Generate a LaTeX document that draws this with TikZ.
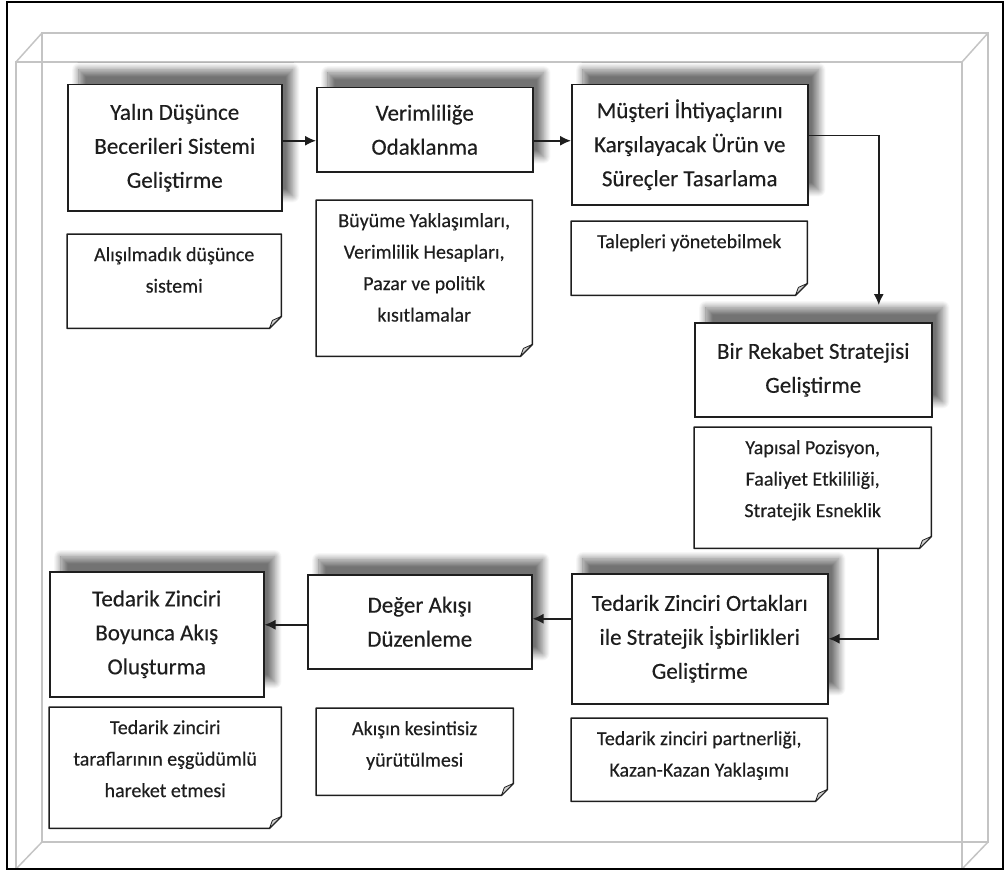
\documentclass[tikz,border=0pt]{standalone}
\usepackage{fontspec}
\setmainfont{Carlito}[FakeBold=0.35]
\usetikzlibrary{arrows.meta,shadows.blur,calc}
\definecolor{frameline}{HTML}{C4C4C4}
\definecolor{ink}{HTML}{1E1E1E}
\tikzset{
  stepbox/.style={draw=ink, line width=1.5pt, fill=white, align=center, inner sep=0pt,
    anchor=north west, font=\fontsize{23}{34}\selectfont, text=ink,
    blur shadow={shadow xshift=11pt, shadow yshift=15pt, shadow blur radius=7pt,
      shadow blur steps=16, shadow opacity=55}},
  notebox/.style={inner sep=0pt, anchor=north west},
  notetext/.style={align=center, inner sep=0pt, anchor=north,
    font=\fontsize{20}{31.5}\selectfont, text=ink},
  arr/.style={draw=ink, line width=1.5pt, -{Latex[length=11pt,width=10pt]}},
  frame3d/.style={draw=frameline, line width=1.5pt},
  noteline/.style={draw=ink, line width=1.5pt, line join=round},
  notefold/.style={draw=ink, line width=0.8pt, fill=gray!35, line join=round},
}
% note outline with a folded bottom-right corner
\newcommand\dogear[1]{%
  \draw[noteline] (#1.north west) -- (#1.north east) -- ([yshift=12pt]#1.south east)
    -- ([xshift=-12pt]#1.south east) -- (#1.south west) -- cycle;
  \draw[notefold] ([yshift=12pt]#1.south east) -- ([xshift=-9pt,yshift=8pt]#1.south east)
    -- ([xshift=-12pt]#1.south east) -- cycle;
}
\begin{document}
\begin{tikzpicture}[x=1pt,y=-1pt]
\useasboundingbox (0,0) rectangle (1006,872);

% wire-frame box behind the chart
\draw[frame3d] (42,33) rectangle (988,842);
\draw[frame3d] (16,62) rectangle (962,869);
\draw[frame3d] (42,33) -- (16,62) (988,33) -- (962,62) (42,842) -- (16,869) (988,842) -- (962,869);
\draw[black, line width=2pt] (7,2) rectangle (1003,869);

% main steps
\node[stepbox, minimum width=214pt, minimum height=126pt] (b1) at (67,84)
  {Yalın Düşünce\\Becerileri Sistemi\\Geliştirme};
\node[stepbox, minimum width=216pt, minimum height=84pt] (b2) at (316,87)
  {Verimliliğe\\Odaklanma};
\node[stepbox, minimum width=236pt, minimum height=120pt] (b3) at (571,84)
  {Müşteri İhtiyaçlarını\\Karşılayacak Ürün ve\\Süreçler Tasarlama};
\node[stepbox, minimum width=237pt, minimum height=94pt] (b4) at (694,322)
  {Bir Rekabet Stratejisi\\Geliştirme};
\node[stepbox, minimum width=256pt, minimum height=130pt] (b5) at (571,573)
  {Tedarik Zinciri Ortakları\\ile Stratejik İşbirlikleri\\Geliştirme};
\node[stepbox, minimum width=224pt, minimum height=94pt] (b6) at (307,574)
  {Değer Akışı\\Düzenleme};
\node[stepbox, minimum width=214pt, minimum height=125pt] (b7) at (49,571)
  {Tedarik Zinciri\\Boyunca Akış\\Oluşturma};

% notes under the steps
\node[notebox, minimum width=214pt, minimum height=94pt] (n1) at (67,234) {};
\node[notebox, minimum width=216pt, minimum height=156pt] (n2) at (316,200) {};
\node[notebox, minimum width=236pt, minimum height=74pt] (n3) at (571,221) {};
\node[notebox, minimum width=237pt, minimum height=121pt] (n4) at (694,427) {};
\node[notebox, minimum width=256pt, minimum height=83pt] (n5) at (571,718) {};
\node[notebox, minimum width=197pt, minimum height=87pt] (n6) at (316,708) {};
\node[notebox, minimum width=232pt, minimum height=121pt] (n7) at (49,707) {};
\dogear{n1}\dogear{n2}\dogear{n3}\dogear{n4}\dogear{n5}\dogear{n6}\dogear{n7}

\node[notetext] (t1) at ([yshift=-13pt]n1.north) {Alışılmadık düşünce\\sistemi};
\node[notetext] (t2) at ([yshift=-13pt]n2.north) {Büyüme Yaklaşımları,\\Verimlilik Hesapları,\\Pazar ve politik\\kısıtlamalar};
\node[notetext] (t3) at ([yshift=-13pt]n3.north) {Talepleri yönetebilmek};
\node[notetext] (t4) at ([yshift=-13pt]n4.north) {Yapısal Pozisyon,\\Faaliyet Etkililiği,\\Stratejik Esneklik};
\node[notetext] (t5) at ([yshift=-13pt]n5.north) {Tedarik zinciri partnerliği,\\Kazan-Kazan Yaklaşımı};
\node[notetext] (t6) at ([yshift=-13pt]n6.north) {Akışın kesintisiz\\yürütülmesi};
\node[notetext] (t7) at ([yshift=-13pt]n7.north) {Tedarik zinciri\\taraflarının eşgüdümlü\\hareket etmesi};

% connectors
\coordinate (c12) at ([yshift=7pt]b1.east);
\draw[arr] (c12) -- (b2.west |- c12);
\coordinate (c23) at ([yshift=-11pt]b2.east);
\draw[arr] (c23) -- (b3.west |- c23);
\draw[arr, shorten >=17pt] ([yshift=9pt]b3.east) -| ([xshift=65.5pt]b4.north);
\draw[arr] ([xshift=65.5pt]n4.south) |- (b5.east);
\coordinate (c56) at ([yshift=3pt]b6.east);
\draw[arr] (b5.west |- c56) -- (c56);
\coordinate (c67) at ([yshift=-3pt]b6.west);
\draw[arr] (c67) -- (b7.east |- c67);
\end{tikzpicture}
\end{document}
